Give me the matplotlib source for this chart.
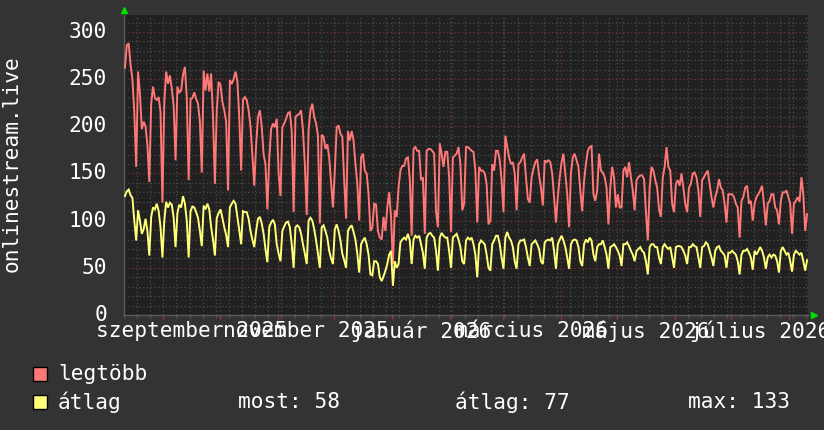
import datetime as dt
import numpy as np
from matplotlib import pyplot as plt
from matplotlib.patches import Rectangle

# daily values, one row per week (Mon..Sun), starting Monday 2025-08-11
max_weeks = [
    [262, 286, 288, 265, 250, 215, 157],
    [258, 235, 197, 205, 200, 180, 141],
    [224, 242, 230, 228, 231, 215, 119],
    [225, 258, 245, 254, 240, 222, 164],
    [242, 236, 238, 255, 263, 230, 143],
    [229, 230, 236, 229, 224, 205, 151],
    [259, 238, 256, 237, 256, 210, 139],
    [217, 247, 244, 226, 217, 205, 132],
    [249, 245, 250, 258, 248, 210, 153],
    [228, 231, 228, 217, 200, 170, 137],
    [180, 210, 217, 200, 170, 160, 112],
    [165, 197, 203, 199, 208, 150, 126],
    [199, 203, 208, 214, 215, 195, 109],
    [210, 212, 213, 217, 196, 160, 106],
    [196, 217, 224, 210, 203, 190, 97],
    [191, 189, 176, 181, 167, 140, 114],
    [153, 199, 201, 192, 189, 143, 102],
    [195, 185, 195, 185, 160, 139, 100],
    [167, 171, 153, 150, 128, 89, 93],
    [118, 117, 89, 82, 80, 104, 89],
    [114, 130, 104, 54, 111, 104, 135],
    [153, 158, 158, 166, 167, 144, 84],
    [176, 178, 174, 174, 143, 146, 86],
    [174, 176, 176, 174, 171, 110, 93],
    [182, 171, 157, 173, 173, 146, 88],
    [167, 169, 171, 178, 160, 111, 118],
    [178, 178, 176, 174, 173, 153, 98],
    [157, 153, 153, 150, 139, 96, 100],
    [160, 153, 174, 174, 164, 143, 109],
    [190, 178, 167, 160, 162, 150, 111],
    [160, 162, 167, 171, 146, 123, 119],
    [146, 155, 162, 165, 148, 135, 116],
    [164, 162, 164, 162, 150, 125, 98],
    [125, 146, 162, 171, 150, 128, 93],
    [150, 167, 171, 164, 157, 132, 110],
    [142, 160, 174, 178, 179, 128, 121],
    [132, 171, 153, 151, 146, 135, 96],
    [135, 157, 146, 114, 128, 114, 114],
    [153, 157, 146, 162, 146, 132, 111],
    [143, 146, 148, 148, 144, 110, 79],
    [135, 157, 153, 143, 135, 112, 104],
    [146, 157, 178, 157, 153, 118, 109],
    [139, 143, 137, 150, 135, 118, 109],
    [135, 139, 150, 151, 146, 132, 104],
    [143, 146, 150, 153, 139, 125, 114],
    [125, 132, 144, 135, 132, 118, 98],
    [128, 128, 128, 125, 118, 114, 82],
    [121, 125, 135, 137, 118, 121, 100],
    [118, 125, 128, 132, 137, 118, 95],
    [118, 121, 128, 128, 114, 111, 96],
    [121, 130, 130, 132, 125, 118, 86],
    [118, 121, 125, 120, 146, 128, 89],
    [107],
]

avg_weeks = [
    [126, 131, 133, 127, 124, 100, 79],
    [111, 100, 86, 91, 102, 89, 63],
    [104, 114, 112, 118, 110, 93, 61],
    [100, 120, 114, 119, 117, 103, 72],
    [108, 117, 114, 126, 118, 100, 61],
    [110, 115, 114, 109, 103, 89, 73],
    [116, 112, 118, 112, 93, 80, 63],
    [103, 108, 112, 103, 93, 85, 72],
    [114, 118, 121, 118, 104, 90, 75],
    [110, 109, 109, 102, 89, 80, 72],
    [89, 102, 104, 97, 86, 70, 56],
    [93, 98, 101, 96, 75, 65, 57],
    [89, 94, 98, 99, 93, 75, 50],
    [93, 95, 93, 86, 75, 65, 54],
    [100, 103, 100, 91, 79, 65, 50],
    [93, 95, 89, 82, 68, 60, 54],
    [91, 96, 89, 79, 65, 58, 50],
    [89, 93, 95, 88, 80, 65, 45],
    [75, 79, 82, 75, 64, 43, 42],
    [57, 57, 54, 40, 36, 41, 47],
    [54, 64, 68, 31, 57, 50, 54],
    [77, 80, 82, 80, 86, 79, 54],
    [80, 84, 82, 84, 75, 66, 49],
    [82, 86, 87, 84, 82, 68, 47],
    [82, 87, 84, 82, 82, 68, 50],
    [82, 84, 86, 80, 72, 57, 54],
    [79, 82, 80, 82, 75, 64, 40],
    [75, 79, 77, 75, 64, 50, 47],
    [75, 79, 84, 84, 75, 61, 49],
    [82, 88, 82, 79, 72, 57, 49],
    [75, 79, 79, 80, 72, 61, 52],
    [75, 77, 79, 75, 70, 57, 54],
    [77, 79, 80, 79, 82, 68, 49],
    [75, 80, 84, 79, 72, 61, 49],
    [75, 79, 80, 79, 72, 57, 52],
    [75, 80, 77, 82, 79, 64, 57],
    [72, 75, 75, 79, 72, 64, 49],
    [72, 73, 75, 72, 68, 63, 52],
    [75, 75, 77, 73, 68, 64, 57],
    [68, 70, 72, 68, 66, 57, 43],
    [72, 75, 75, 72, 72, 61, 54],
    [72, 75, 72, 70, 72, 61, 50],
    [72, 73, 73, 72, 68, 63, 54],
    [72, 72, 75, 73, 72, 61, 50],
    [72, 73, 77, 75, 68, 61, 52],
    [68, 72, 73, 68, 66, 63, 50],
    [66, 66, 68, 66, 64, 57, 43],
    [64, 68, 68, 70, 66, 61, 48],
    [68, 64, 68, 72, 68, 61, 49],
    [61, 64, 61, 64, 63, 57, 45],
    [68, 72, 68, 64, 66, 57, 46],
    [64, 68, 66, 64, 66, 57, 47],
    [58],
]

START = dt.date(2025, 8, 11)
END = dt.date(2026, 8, 11)
month_labels = ["szeptember 2025", "november 2025", "január 2026",
                "március 2026", "május 2026", "július 2026"]
label_months = [(2025, 9), (2025, 11), (2026, 1), (2026, 3), (2026, 5), (2026, 7)]
y_labels = [0, 50, 100, 150, 200, 250, 300]
legend_names = ["legtöbb", "átlag"]
stats = ["most: 58", "átlag: 77", "max: 133"]

BACK = '#333333'
CANVAS = '#212121'
RED = '#ff7878'
YELLOW = '#ffff78'
FONT = 'DejaVu Sans Mono'
FS = 15.2

plt.rcParams['font.family'] = FONT


def day(d):
    return (d - START).days


fig = plt.figure(figsize=(8.24, 4.30), dpi=100, facecolor=BACK)
ax = fig.add_axes([124 / 824, 115 / 430, 684 / 824, 300 / 430], facecolor=CANVAS)

mx = np.array([v for w in max_weeks for v in w], dtype=float)
av = np.array([v for w in avg_weeks for v in w], dtype=float)
xs = np.arange(len(mx)) + 0.5
ax.plot(xs, mx, color=RED, lw=1.4, zorder=3, solid_joinstyle='miter')
ax.plot(xs, av, color=YELLOW, lw=1.4, zorder=3, solid_joinstyle='miter')

total = day(END)
ax.set_xlim(0, total)
ax.set_ylim(0, 318)

# grid: weeks / months on x, 10 / 50 on y
month_starts = []
y, m = 2025, 9
while dt.date(y, m, 1) < END:
    month_starts.append(day(dt.date(y, m, 1)))
    m += 1
    if m > 12:
        y, m = y + 1, 1
ax.set_xticks(month_starts)
ax.set_xticks(np.arange(0, total + 1, 7), minor=True)
ax.set_yticks(y_labels)
ax.set_yticks(np.arange(0, 318, 10), minor=True)
ax.set_xticklabels([])
ax.set_yticklabels([])
ax.grid(which='minor', color='#4c4c4c', linestyle=(0, (1, 2)), lw=0.9)
ax.grid(which='major', color='#7a3434', linestyle=(0, (1, 2)), lw=0.9)
ax.set_axisbelow(True)
ax.tick_params(which='major', axis='x', color='#9a3a3a', length=3, width=1)
ax.tick_params(which='minor', axis='x', color='#555555', length=2, width=1)
ax.tick_params(axis='y', which='both', length=0)

for v in y_labels:
    ax.text(-17 / 684, v, str(v), transform=ax.get_yaxis_transform(), ha='right',
            va='center', color='white', fontsize=FS, family=FONT, clip_on=False)

for s in ['top', 'right']:
    ax.spines[s].set_visible(False)
for s in ['left', 'bottom']:
    ax.spines[s].set_color('#5a5a5a')
    ax.spines[s].set_linewidth(1)

# arrows at the axis ends
ax.plot([0], [1.017], marker='^', color='#00dd00', ms=5, transform=ax.transAxes, clip_on=False)
ax.plot([1.009], [0], marker='>', color='#00dd00', ms=5, transform=ax.transAxes, clip_on=False)

# month labels centred on the middle of the month
for (yy, mm), lab in zip(label_months, month_labels):
    a = dt.date(yy, mm, 1)
    b = dt.date(yy + (mm == 12), mm % 12 + 1, 1)
    mid = (day(a) + day(b)) / 2
    ax.text(mid, -0.053, lab, transform=ax.get_xaxis_transform(), ha='center',
            va='center', color='white', fontsize=FS, family=FONT, clip_on=False)

fig.text(12 / 824, 1 - 164 / 430, 'onlinestream.live', rotation=90, ha='center',
         va='center', color='white', fontsize=FS, family=FONT)

# legend
for i, (name, col) in enumerate(zip(legend_names, [RED, YELLOW])):
    yc = 374 + 28 * i
    fig.patches.append(Rectangle((33 / 824, 1 - (yc + 7) / 430), 14 / 824, 14 / 430,
                                 transform=fig.transFigure, facecolor=col,
                                 edgecolor='black', lw=1))
    fig.text(58 / 824, 1 - yc / 430, name, ha='left', va='center', color='white',
             fontsize=FS, family=FONT)
for txt, xp in zip(stats, [238, 455, 688]):
    fig.text(xp / 824, 1 - 402 / 430, txt, ha='left', va='center', color='white',
             fontsize=FS, family=FONT)

fig.savefig('out.png', dpi=100, facecolor=BACK)
